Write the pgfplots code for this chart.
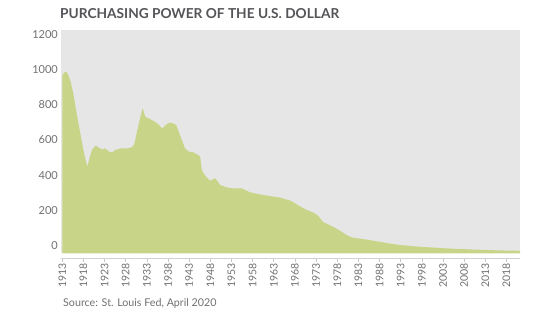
\documentclass[border=0pt]{standalone}
\usepackage{pgfplots}
\pgfplotsset{compat=1.18}
\usepackage{fontspec}
\setmainfont{Lato}
\definecolor{areagreen}{RGB}{200,212,136}
\definecolor{bggray}{RGB}{230,230,230}
\definecolor{titlegray}{RGB}{85,85,89}
\definecolor{labelgray}{RGB}{112,112,112}
\begin{document}
\begin{tikzpicture}
\path[use as bounding box] (-61pt,-63pt) rectangle (493pt,258pt);
\begin{axis}[
  at={(0pt,0pt)}, anchor=south west,
  scale only axis, width=459pt, height=228pt,
  xmin=1912.7, xmax=2021.2, ymin=-72, ymax=1227,
  axis x line*=bottom, axis y line*=left,
  y axis line style={draw=none},
  x axis line style={draw=black!18, line width=0.7pt},
  xtick={1913,1918,...,2018},
  ytick={0,200,...,1200},
  tick align=outside,
  major tick length=4pt,
  x tick style={draw=black!22, line width=0.6pt},
  y tick style={draw=none},
  xticklabel style={rotate=90, anchor=east, font=\fontsize{10.5}{11}\selectfont, text=labelgray, inner sep=1pt},
  yticklabel style={font=\fontsize{11}{12}\selectfont, text=labelgray, inner sep=1pt, xshift=2pt},
  /pgf/number format/1000 sep={},
  /pgf/number format/assume math mode=true,
]
\addplot[fill=bggray, draw=none] coordinates {(1912.7,-46) (1912.7,1227) (2021.2,1227) (2021.2,-46)} -- cycle;
\addplot[fill=areagreen, draw=none] coordinates {
(1913.0,-46) (1913.0,970) (1913.5,985) (1914.0,989) (1914.5,965) (1915.0,930) (1915.6,866)
(1916.4,752) (1917.2,647) (1918.0,543) (1918.9,448) (1919.5,500) (1920.0,543)
(1920.9,568) (1921.9,553) (1922.5,545) (1923.1,553) (1924.3,530) (1925.0,533)
(1925.5,543) (1927.0,553) (1928.6,553) (1929.5,560) (1930.0,575) (1930.6,640)
(1931.4,725) (1932.0,781) (1932.3,760) (1932.6,733) (1933.7,720) (1934.9,704)
(1935.7,690) (1936.6,666) (1937.7,690) (1938.5,700) (1939.6,691) (1940.0,682)
(1940.8,630) (1942.0,553) (1942.8,535) (1943.9,530) (1945.2,514) (1945.6,505)
(1946.0,429) (1946.7,400) (1947.9,368) (1949.1,382) (1949.5,372) (1950.3,344)
(1951.9,330) (1953.4,325) (1955.4,325) (1957.4,302) (1959.7,290) (1962.1,281)
(1964.5,272) (1967.0,254) (1968.5,232) (1970.5,205) (1972.5,185) (1973.5,168)
(1974.7,132) (1976.0,118) (1977.5,100) (1979.0,78) (1980.5,55) (1981.5,45)
(1983.4,38) (1985.7,30) (1988.1,20) (1990.5,10) (1992.8,2) (1997.6,-8)
(2002.3,-15) (2007.0,-21) (2011.8,-25) (2016.5,-29) (2021.2,-31) (2021.2,-46)
} -- cycle;
\end{axis}
\node[anchor=base west, inner sep=0pt, text=titlegray, font=\fontsize{13.7}{15}\selectfont\bfseries] at (-1pt,239.7pt) {PURCHASING POWER OF THE U.S. DOLLAR};
\node[anchor=base west, inner sep=0pt, text=labelgray, font=\fontsize{10.7}{12}\selectfont] at (2pt,-48.7pt) {Source: St. Louis Fed, April 2020};
\end{tikzpicture}
\end{document}
